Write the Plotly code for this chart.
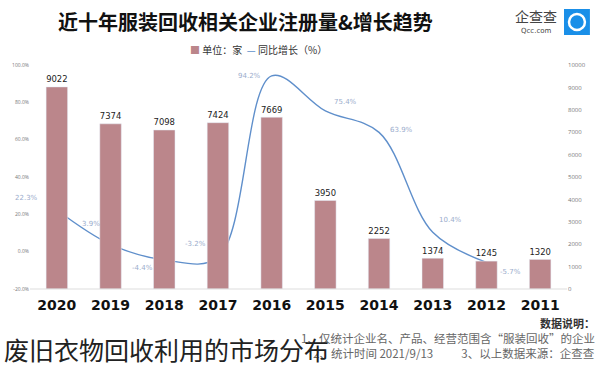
import plotly.graph_objects as go

years = ["2020", "2019", "2018", "2017", "2016", "2015", "2014", "2013", "2012", "2011"]
counts = [9022, 7374, 7098, 7424, 7669, 3950, 2252, 1374, 1245, 1320]
growth_years = ["2020", "2019", "2018", "2017", "2016", "2015", "2014", "2013", "2012"]
growth = [22.3, 3.9, -4.4, -3.2, 94.2, 75.4, 63.9, 10.4, -5.7]
pct_ticks = [-20, 0, 20, 40, 60, 80, 100]
cnt_ticks = list(range(0, 10001, 1000))

BAR = "#bb868b"
LINE = "#5f8fcb"
LBL = "#9aaccc"

L, R, T, B = 28, 33, 65, 79
W, H = 600, 368


def px_x(px):
    return (px - L) / (W - L - R)


def px_y(py):
    return (H - B - py) / (H - T - B)


fig = go.Figure()
fig.add_trace(go.Bar(
    x=years, y=counts, yaxis="y2", marker_color=BAR, width=0.4,
    text=[str(c) for c in counts], textposition="outside",
    textfont=dict(size=10, color="#222", family="DejaVu Sans"),
    cliponaxis=False, showlegend=False, hoverinfo="skip"))
fig.add_trace(go.Scatter(
    x=growth_years, y=growth, yaxis="y", mode="lines",
    line=dict(color=LINE, width=1.4, shape="spline", smoothing=1.0),
    showlegend=False, hoverinfo="skip"))

offs = [(-30, 12), (-20, 20), (-22, -8), (-22, 14), (-22, 0),
        (20, 9), (22, 2), (18, 12), (24, -10)]
for yr, g, (dx, dy) in zip(growth_years, growth, offs):
    fig.add_annotation(x=years.index(yr), y=g, xref="x", yref="y", text=f"{g}%",
                       showarrow=False, xshift=dx, yshift=dy,
                       font=dict(size=7, color=LBL, family="DejaVu Sans"))

fig.update_layout(
    width=W, height=H, margin=dict(l=L, r=R, t=T, b=B),
    paper_bgcolor="white", plot_bgcolor="white",
    xaxis=dict(type="category", categoryorder="array", categoryarray=years,
               range=[-0.5, len(years) - 0.5], autorange=False,
               showgrid=False, showline=False, ticks="", ticklabelstandoff=6,
               tickvals=years, ticktext=[f"<b>{y}</b>" for y in years],
               tickfont=dict(size=14, color="#111", family="DejaVu Sans")),
    yaxis=dict(range=[-20, 100], tickvals=pct_ticks,
               ticktext=[f"{v:.1f}%" for v in pct_ticks],
               showgrid=False, zeroline=False, side="left",
               tickfont=dict(size=5, color="#777")),
    yaxis2=dict(range=[0, 10000], tickvals=cnt_ticks, ticktext=[str(v) for v in cnt_ticks],
                overlaying="y", side="right",
                showgrid=False, zeroline=False, showline=False,
                tickfont=dict(size=6, color="#777")),
)
fig.add_shape(type="line", xref="paper", yref="paper", x0=0, x1=1, y0=0, y1=0,
              line=dict(color="#ddd", width=1))

fig.add_annotation(xref="paper", yref="paper", x=px_x(244), y=px_y(22),
                   text="<b>近十年服装回收相关企业注册量&增长趋势</b>", showarrow=False,
                   font=dict(size=20, color="#111", family="Noto Sans CJK SC"),
                   xanchor="center", yanchor="middle")
fig.add_annotation(xref="paper", yref="paper", x=px_x(257), y=px_y(50),
                   text=f"<span style='color:{BAR}'>■</span> 单位：家  <span style='color:{LINE}'>—</span> 同比增长（%）",
                   showarrow=False, font=dict(size=10, color="#333", family="Noto Sans CJK SC"),
                   xanchor="center", yanchor="middle")
fig.add_shape(type="rect", xref="paper", yref="paper", x0=px_x(564), x1=px_x(590),
              y0=px_y(35), y1=px_y(9), fillcolor="#1a8fe8", line=dict(width=0))
fig.add_shape(type="circle", xref="paper", yref="paper", x0=px_x(569), x1=px_x(585),
              y0=px_y(30), y1=px_y(14), fillcolor="rgba(0,0,0,0)", line=dict(color="white", width=2.5))
fig.add_annotation(xref="paper", yref="paper", x=px_x(536), y=px_y(16), text="企查查",
                   showarrow=False, font=dict(size=14, color="#444", family="Noto Sans CJK SC"),
                   xanchor="center", yanchor="middle")
fig.add_annotation(xref="paper", yref="paper", x=px_x(536), y=px_y(31), text="Qcc.com",
                   showarrow=False, font=dict(size=7, color="#444", family="DejaVu Sans"),
                   xanchor="center", yanchor="middle")
fig.add_annotation(xref="paper", yref="paper", x=px_x(597), y=px_y(323), text="<b>数据说明：</b>",
                   showarrow=False, font=dict(size=11, color="#333", family="Noto Sans CJK SC"),
                   xanchor="right", yanchor="middle")
fig.add_annotation(xref="paper", yref="paper", x=px_x(597), y=px_y(338),
                   text="1、仅统计企业名、产品、经营范围含“服装回收”的企业",
                   showarrow=False, font=dict(size=11.5, color="#666", family="Noto Sans CJK SC"),
                   xanchor="right", yanchor="middle")
fig.add_annotation(xref="paper", yref="paper", x=px_x(597), y=px_y(353),
                   text="2、统计时间 2021/9/13　　  3、以上数据来源：企查查",
                   showarrow=False, font=dict(size=11.5, color="#666", family="Noto Sans CJK SC"),
                   xanchor="right", yanchor="middle")
fig.add_annotation(xref="paper", yref="paper", x=px_x(0), y=px_y(349),
                   text="废旧衣物回收利用的市场分布",
                   showarrow=False, font=dict(size=25, color="#222", family="Noto Sans CJK SC"),
                   xanchor="left", yanchor="middle")

fig.write_html("out.html", config={"displayModeBar": False},
               post_script="document.body.style.margin='0';")
